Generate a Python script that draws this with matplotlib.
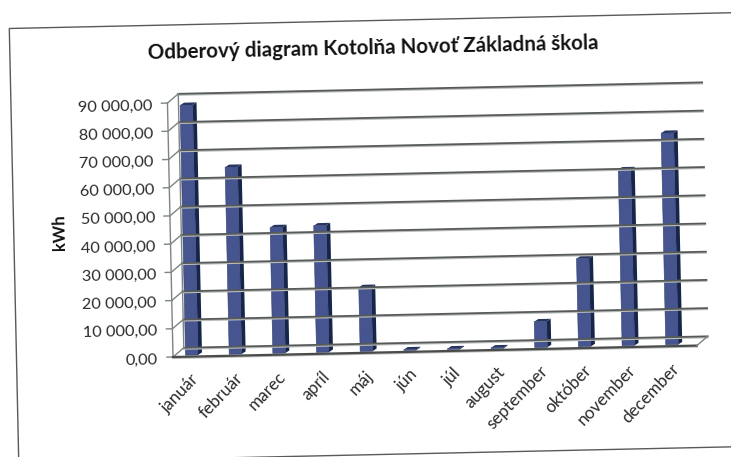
# Scanned 3D column chart, slightly tilted on the page
import matplotlib.pyplot as plt
from matplotlib.patches import Polygon, Rectangle
from matplotlib.transforms import Affine2D, IdentityTransform

plt.rcParams["font.family"] = ["Lato", "DejaVu Sans"]

# Data
months = ["január", "február", "marec", "apríl", "máj", "jún", "júl", "august",
          "september", "október", "november", "december"]
consumption = [88600, 66300, 44600, 44900, 22700, 300, 300, 300,
               9200, 31200, 62400, 75000]
ticks = [0, 10000, 20000, 30000, 40000, 50000, 60000, 70000, 80000, 90000]
tick_labels = ["0,00", "10 000,00", "20 000,00", "30 000,00", "40 000,00",
               "50 000,00", "60 000,00", "70 000,00", "80 000,00", "90 000,00"]

# Colours
front_col = "#46558f"
side_col = "#16264a"
top_col = "#27365f"
grid_col = "#565a58"
text_col = "#2b2b2b"

fig = plt.figure(figsize=(7.31, 4.57), dpi=100)
ax = fig.add_axes([173 / 731, 100 / 457, 524 / 731, 254 / 457])
ax.set_xlim(0, 12)
ax.set_ylim(0, 90000)
ax.axis("off")

# The page is tilted, so everything goes through one rotation
tilt = Affine2D().rotate_deg_around(173, 100, 1.25)


def shifted(dx, dy):
    return ax.transData + Affine2D().translate(dx, dy) + tilt


front = shifted(0, 0)
wall = shifted(11, 9)
bars = shifted(-3, 1.5)

# Chart frame
fig.add_artist(Rectangle((16.5, -2), 800, 434, fill=False, edgecolor="#5a5a5a",
                         linewidth=1.0, transform=IdentityTransform() + tilt))

# Back wall gridlines and the side wall links
for t, label in zip(ticks, tick_labels):
    ax.plot([0, 12], [t, t], color="#b9bcbb", lw=1.2, transform=shifted(11, 7.8), clip_on=False)
    ax.plot([0, 12], [t, t], color=grid_col, lw=1.3, transform=wall, clip_on=False)
    x0, y0 = front.transform((0, t))
    x1, y1 = wall.transform((0, t))
    ax.plot([x0, x1], [y0, y1], color="#7d8482", lw=1.0,
            transform=IdentityTransform(), clip_on=False)
    x2, y2 = shifted(-6, 0).transform((0, t))
    ax.plot([x2, x0], [y2, y0], color="#7d8482", lw=1.0,
            transform=IdentityTransform(), clip_on=False)
    ax.text(0, t, label, transform=shifted(-15, -2.5), ha="right",
            va="center", fontsize=11.8, color=text_col, rotation=1.25,
            rotation_mode="anchor")

# Axis verticals and floor
ax.plot([0, 0], [0, 90000], color="#7d8482", lw=1.0, transform=front, clip_on=False)
ax.plot([0, 0], [0, 90000], color="#7d8482", lw=1.0, transform=wall, clip_on=False)
ax.plot([0, 12], [0, 0], color="#b9bcbb", lw=1.2, transform=shifted(0, -1.2), clip_on=False)
ax.plot([0, 12], [0, 0], color="#4a4c4b", lw=1.6, transform=front, clip_on=False)
x0, y0 = front.transform((12, 0))
x1, y1 = wall.transform((12, 0))
ax.plot([x0, x1], [y0, y1], color="#7d8482", lw=1.0,
        transform=IdentityTransform(), clip_on=False)

# Columns: front face from ax.bar, side and top from the same values
centers = [i + 0.5 for i in range(len(months))]
bar_w = 12.5 / (524 / 12)
depth_x = 4 / (524 / 12)
depth_y = 2.5 / (254 / 90000)
for c, v in zip(centers, consumption):
    left = c - bar_w / 2
    right = c + bar_w / 2
    ax.add_patch(Polygon([(right, 0), (right + depth_x, depth_y),
                          (right + depth_x, v + depth_y), (right, v)],
                         facecolor=side_col, edgecolor="none", transform=bars, clip_on=False))
    ax.add_patch(Polygon([(left, v), (right, v), (right + depth_x, v + depth_y),
                          (left + depth_x, v + depth_y)],
                         facecolor=top_col, edgecolor="none", transform=bars, clip_on=False))
ax.bar(centers, consumption, width=bar_w, color=front_col, edgecolor="#2f3d70",
       linewidth=0.4, transform=bars, clip_on=False)

# Month labels
for c, m in zip(centers, months):
    ax.text(c, 0, m, transform=shifted(1, -20), ha="right", va="center",
            fontsize=12.3, color=text_col, rotation=46.25, rotation_mode="anchor")

# Titles
fig.text(373 / 731, (457 - 48) / 457, "Odberový diagram Kotolňa Novoť Základná škola",
         ha="center", va="center", fontsize=14.8, fontweight="bold", color="#111111",
         rotation=1.25)
fig.text(60 / 731, (457 - 232) / 457, "kWh", ha="center", va="center", fontsize=12,
         fontweight="bold", color="#111111", rotation=91.25)

fig.savefig("out.png", dpi=100)
